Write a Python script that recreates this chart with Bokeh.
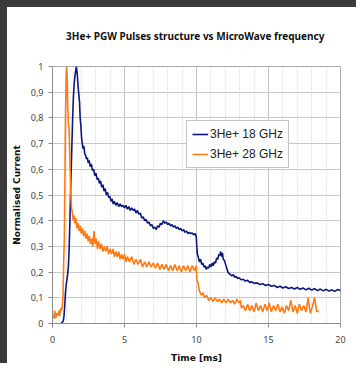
from bokeh.plotting import figure
from bokeh.models import (Legend, LegendItem, SingleIntervalTicker, FixedTicker,
                          Range1d, Title)
from bokeh.embed import file_html
from bokeh.resources import INLINE

title_text = "3He+  PGW Pulses structure vs MicroWave frequency"
x_label = "Time [ms]"
y_label = "Normalised Current"
series_names = ["3He+ 18 GHz", "3He+ 28 GHz"]

y_ticks = [0, 0.1, 0.2, 0.3, 0.4, 0.5, 0.6, 0.7, 0.8, 0.9, 1.0]
y_tick_labels = ["0", "0,1", "0,2", "0,3", "0,4", "0,5", "0,6", "0,7", "0,8", "0,9", "1"]
x_ticks = [0, 5, 10, 15, 20]

# 3He+ 18 GHz (blue)
t18 = [0.60, 0.68, 0.75, 0.80, 0.85, 0.90, 0.95, 1.00, 1.05, 1.10, 1.15, 1.20, 1.25, 1.30,
       1.35, 1.40, 1.45, 1.50, 1.55, 1.60, 1.66, 1.72, 1.78, 1.83, 1.88, 1.92, 1.97, 2.02,
       2.07, 2.12, 2.18, 2.24, 2.30, 2.36, 2.42, 2.48, 2.55, 2.62, 2.70, 2.78, 2.86, 2.94,
       3.02, 3.10, 3.18, 3.26, 3.34, 3.42, 3.50, 3.58, 3.66, 3.74, 3.82, 3.90, 3.98, 4.06,
       4.14, 4.22, 4.30, 4.40, 4.50, 4.60, 4.70, 4.80, 4.90, 5.00, 5.10, 5.20, 5.30, 5.40,
       5.50, 5.60, 5.70, 5.80, 5.90, 6.00, 6.10, 6.20, 6.30, 6.40, 6.50, 6.60, 6.70, 6.80,
       6.90, 7.00, 7.10, 7.20, 7.30, 7.40, 7.50, 7.60, 7.70, 7.80, 7.90, 8.00, 8.10, 8.20,
       8.30, 8.40, 8.50, 8.60, 8.70, 8.80, 8.90, 9.00, 9.10, 9.20, 9.30, 9.40, 9.50, 9.60,
       9.70, 9.80, 9.90, 9.98, 10.02, 10.06, 10.12, 10.20, 10.28, 10.36, 10.44, 10.52,
       10.60, 10.68, 10.76, 10.84, 10.92, 11.00, 11.08, 11.16, 11.24, 11.32, 11.40, 11.48,
       11.56, 11.62, 11.68, 11.74, 11.80, 11.86, 11.94, 12.02, 12.10, 12.18, 12.26, 12.36,
       12.46, 12.56, 12.66, 12.76, 12.86, 12.96, 13.10, 13.25, 13.40, 13.55, 13.70, 13.85,
       14.00, 14.20, 14.40, 14.60, 14.80, 15.00, 15.20, 15.40, 15.60, 15.80, 16.00, 16.20,
       16.40, 16.60, 16.80, 17.00, 17.20, 17.40, 17.60, 17.80, 18.00, 18.20, 18.40, 18.60,
       18.80, 19.00, 19.20, 19.40, 19.60, 19.80, 20.00]
i18 = [0.00, 0.005, 0.01, 0.03, 0.07, 0.12, 0.15, 0.17, 0.19, 0.22, 0.28, 0.38, 0.50, 0.60,
       0.70, 0.80, 0.88, 0.93, 0.96, 0.98, 1.00, 0.97, 0.92, 0.89, 0.86, 0.80, 0.77, 0.72,
       0.70, 0.68, 0.69, 0.66, 0.655, 0.64, 0.645, 0.625, 0.635, 0.61, 0.62, 0.595, 0.60, 0.575,
       0.585, 0.56, 0.565, 0.545, 0.555, 0.53, 0.54, 0.515, 0.525, 0.50, 0.51, 0.49, 0.495, 0.475,
       0.485, 0.465, 0.475, 0.46, 0.47, 0.455, 0.465, 0.455, 0.46, 0.45, 0.46, 0.445, 0.455, 0.44,
       0.45, 0.44, 0.445, 0.43, 0.44, 0.425, 0.43, 0.41, 0.415, 0.40, 0.405, 0.39, 0.395, 0.38,
       0.385, 0.37, 0.375, 0.365, 0.38, 0.375, 0.39, 0.385, 0.40, 0.39, 0.395, 0.385, 0.39, 0.38,
       0.385, 0.375, 0.38, 0.37, 0.375, 0.365, 0.37, 0.36, 0.365, 0.355, 0.36, 0.35, 0.355, 0.35,
       0.352, 0.345, 0.35, 0.34, 0.30, 0.27, 0.26, 0.24, 0.25, 0.23, 0.235, 0.22,
       0.225, 0.21, 0.22, 0.215, 0.23, 0.22, 0.235, 0.225, 0.24, 0.235, 0.255, 0.25,
       0.27, 0.265, 0.28, 0.26, 0.275, 0.25, 0.245, 0.23, 0.215, 0.20, 0.195, 0.19,
       0.185, 0.19, 0.18, 0.183, 0.175, 0.178, 0.17, 0.172, 0.165, 0.168, 0.16, 0.162,
       0.156, 0.158, 0.152, 0.155, 0.148, 0.152, 0.145, 0.148, 0.14, 0.145, 0.138, 0.143,
       0.136, 0.14, 0.134, 0.14, 0.133, 0.138, 0.131, 0.137, 0.13, 0.136, 0.128, 0.134,
       0.127, 0.133, 0.126, 0.131, 0.125, 0.132, 0.128]

# 3He+ 28 GHz (orange)
t28 = [0.00, 0.08, 0.15, 0.22, 0.30, 0.37, 0.44, 0.50, 0.56, 0.62, 0.68, 0.73, 0.78, 0.82,
       0.86, 0.90, 0.95, 0.98, 1.02, 1.06, 1.10, 1.15, 1.20, 1.26, 1.32, 1.38, 1.44, 1.50,
       1.56, 1.62, 1.70, 1.78, 1.85, 1.92, 2.00, 2.08, 2.16, 2.24, 2.32, 2.40, 2.48, 2.56,
       2.64, 2.72, 2.80, 2.88, 2.96, 3.04, 3.12, 3.20, 3.30, 3.40, 3.50, 3.60, 3.70, 3.80,
       3.90, 4.00, 4.10, 4.20, 4.30, 4.40, 4.50, 4.60, 4.70, 4.80, 4.90, 5.00, 5.10, 5.20,
       5.35, 5.50, 5.65, 5.80, 5.95, 6.10, 6.25, 6.40, 6.55, 6.70, 6.85, 7.00, 7.15, 7.30,
       7.45, 7.60, 7.75, 7.90, 8.05, 8.20, 8.35, 8.50, 8.65, 8.80, 8.95, 9.10, 9.25, 9.40,
       9.55, 9.70, 9.85, 9.98, 10.03, 10.10, 10.18, 10.25, 10.35, 10.45, 10.55, 10.70,
       10.85, 11.00, 11.15, 11.30, 11.45, 11.60, 11.75, 11.90, 12.05, 12.20, 12.35, 12.50,
       12.65, 12.80, 12.95, 13.05, 13.12, 13.25, 13.40, 13.55, 13.70, 13.85, 14.00, 14.15,
       14.30, 14.45, 14.60, 14.75, 14.90, 15.05, 15.20, 15.35, 15.50, 15.65, 15.80, 15.95,
       16.10, 16.25, 16.40, 16.55, 16.70, 16.85, 17.00, 17.15, 17.30, 17.45, 17.60, 17.75,
       17.90, 18.05, 18.20, 18.35, 18.50]
i28 = [0.03, 0.02, 0.05, 0.02, 0.04, 0.03, 0.05, 0.03, 0.06, 0.05, 0.07, 0.10, 0.25, 0.32,
       0.55, 0.80, 0.97, 1.00, 0.96, 0.84, 0.78, 0.76, 0.66, 0.52, 0.45, 0.43, 0.40, 0.42,
       0.39, 0.41, 0.37, 0.39, 0.36, 0.38, 0.35, 0.37, 0.34, 0.36, 0.33, 0.35, 0.32, 0.34,
       0.31, 0.33, 0.30, 0.36, 0.31, 0.33, 0.29, 0.32, 0.29, 0.31, 0.28, 0.30, 0.28, 0.30,
       0.27, 0.29, 0.27, 0.29, 0.26, 0.28, 0.26, 0.28, 0.25, 0.27, 0.25, 0.27, 0.24, 0.26,
       0.24, 0.26, 0.23, 0.25, 0.23, 0.25, 0.22, 0.24, 0.22, 0.24, 0.22, 0.235, 0.215, 0.235,
       0.21, 0.23, 0.21, 0.23, 0.205, 0.225, 0.205, 0.23, 0.205, 0.225, 0.20, 0.225, 0.205, 0.225,
       0.20, 0.225, 0.205, 0.225, 0.17, 0.16, 0.13, 0.12, 0.11, 0.12, 0.10, 0.11,
       0.09, 0.10, 0.085, 0.10, 0.085, 0.095, 0.08, 0.095, 0.08, 0.095, 0.08, 0.09,
       0.075, 0.095, 0.08, 0.09, 0.06, 0.07, 0.05, 0.075, 0.05, 0.07, 0.045, 0.08,
       0.05, 0.07, 0.045, 0.075, 0.05, 0.08, 0.045, 0.07, 0.05, 0.075, 0.045, 0.065,
       0.04, 0.07, 0.05, 0.09, 0.045, 0.07, 0.04, 0.075, 0.05, 0.07, 0.045, 0.10,
       0.04, 0.065, 0.10, 0.045, 0.05]

BLUE = "#0c1880"
ORANGE = "#ff7a12"
DARK = "#3a3a3a"
TXT = "Noto Sans"
LBL = "DejaVu Sans"

p = figure(width=356, height=363, output_backend="svg", toolbar_location=None,
           x_range=Range1d(0, 20), y_range=Range1d(0, 1),
           min_border_left=45, min_border_right=23, min_border_top=59,
           min_border_bottom=47,
           background_fill_color="white", border_fill_color="white",
           styles={"border-left": "7px solid " + DARK, "border-top": "7px solid " + DARK})

p.title.text = title_text
p.title.align = "center"
p.title.text_font = TXT
p.title.text_font_size = "10px"
p.title.text_font_style = "bold"
p.title.text_color = "#111111"
# empty spacer line between the title and the plot area
p.add_layout(Title(text=" ", text_font_size="15px", standoff=0), "above")

r18 = p.line(t18, i18, line_color=BLUE, line_width=1.6)
r28 = p.line(t28, i28, line_color=ORANGE, line_width=1.6)

xt = SingleIntervalTicker(interval=5, num_minor_ticks=5)
p.xaxis.ticker = xt
p.xgrid.ticker = xt
p.yaxis.ticker = FixedTicker(ticks=y_ticks)
p.ygrid.ticker = FixedTicker(ticks=y_ticks)
p.yaxis.major_label_overrides = {v: s for v, s in zip(y_ticks, y_tick_labels)}

p.xgrid.grid_line_color = "#c4c4c4"
p.xgrid.minor_grid_line_color = "#cfcfcf"
p.xgrid.minor_grid_line_dash = "1 2"
p.ygrid.grid_line_color = "#c8c8c8"
p.outline_line_color = "#a8a8a8"

for ax in (p.xaxis[0], p.yaxis[0]):
    ax.axis_line_color = "#8c8c8c"
    ax.major_tick_line_color = "#8c8c8c"
    ax.major_tick_out = 4
    ax.major_tick_in = 0
    ax.minor_tick_out = 0
    ax.minor_tick_in = 0
    ax.major_label_text_font = TXT
    ax.major_label_text_font_size = "9px"
    ax.major_label_text_color = "#444444"
    ax.axis_label_text_font = LBL
    ax.axis_label_text_font_size = "9px"
    ax.axis_label_text_font_style = "bold"
    ax.axis_label_text_color = "#111111"

p.xaxis.axis_label = x_label
p.yaxis.axis_label = y_label
p.xaxis.major_label_standoff = 8
p.yaxis.major_label_standoff = 5
p.xaxis.axis_label_standoff = 7
p.yaxis.axis_label_standoff = 6

legend = Legend(items=[LegendItem(label=series_names[0], renderers=[r18]),
                       LegendItem(label=series_names[1], renderers=[r28])],
                location=(134, 155))
legend.border_line_color = "#8a8a8a"
legend.background_fill_color = "white"
legend.background_fill_alpha = 1
legend.label_text_font = "Liberation Sans"
legend.label_text_font_size = "12px"
legend.label_text_color = "#222222"
legend.glyph_width = 16
legend.glyph_height = 16
legend.label_height = 16
legend.label_standoff = 2
legend.spacing = 4
legend.padding = 5
legend.margin = 0
p.add_layout(legend)

open("out.html", "w").write(file_html(p, INLINE))
